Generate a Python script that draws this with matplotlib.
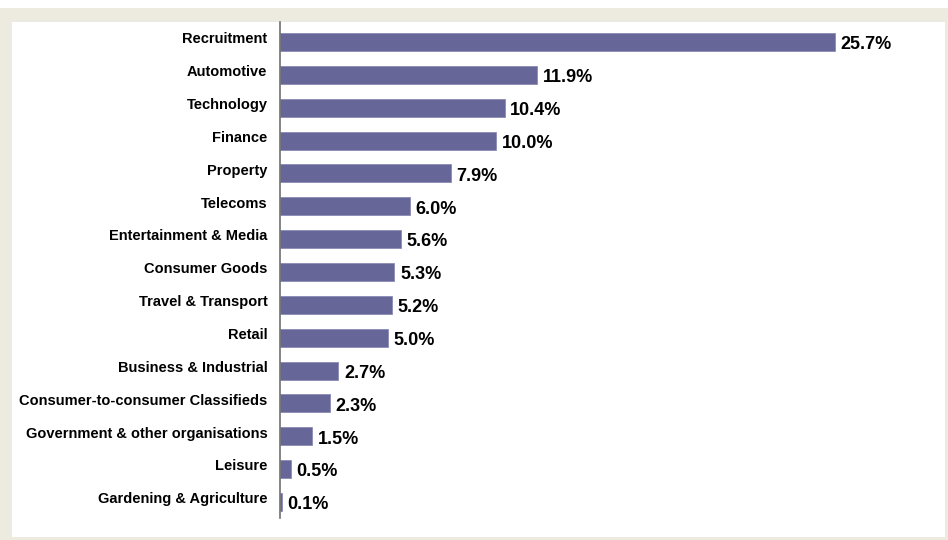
import matplotlib.pyplot as plt
import matplotlib.transforms as mtransforms
from matplotlib.patches import Rectangle

# Share of items by sector (%)
sectors = [
    'Recruitment', 'Automotive', 'Technology', 'Finance', 'Property',
    'Telecoms', 'Entertainment & Media', 'Consumer Goods',
    'Travel & Transport', 'Retail', 'Business & Industrial',
    'Consumer-to-consumer Classifieds', 'Government & other organisations',
    'Leisure', 'Gardening & Agriculture',
]
shares = [25.7, 11.9, 10.4, 10.0, 7.9, 6.0, 5.6, 5.3, 5.2, 5.0,
          2.7, 2.3, 1.5, 0.5, 0.1]

W, H = 948, 540
BAR = '#666699'
BEIGE = '#EDEAE0'

plt.rcParams['font.family'] = ['Liberation Sans', 'DejaVu Sans']

fig = plt.figure(figsize=(W / 100, H / 100), dpi=100, facecolor='white')

# beige frame with white panel, as in the original page
fig.patches.append(Rectangle((0, 0), 1, 1 - 8 / H, transform=fig.transFigure,
                             facecolor=BEIGE, edgecolor='none', zorder=-2))
fig.patches.append(Rectangle((12 / W, 3 / H), (945 - 12) / W, (537 - 22) / H,
                             transform=fig.transFigure, facecolor='white',
                             edgecolor='none', zorder=-1))

ax = fig.add_axes([280 / W, 1 - 518 / H, (940 - 280) / W, (518 - 22) / H])
ax.patch.set_alpha(0)

y = list(range(len(sectors)))
ax.barh(y, shares, height=0.55, color=BAR, edgecolor='#8A8AB5', linewidth=0.6)

ax.set_xlim(0, 660 / 21.6)
ax.set_ylim(14 + 16 / 32.857, -20 / 32.857)
ax.set_yticks(y)
ax.set_yticklabels(sectors, fontsize=10.5, fontweight='bold')
ax.tick_params(axis='y', length=0, pad=9)
ax.set_xticks([])

# nudge category labels a little up, value labels a little down
up = mtransforms.ScaledTranslation(0, 3 / 72, fig.dpi_scale_trans)
for lab in ax.get_yticklabels():
    lab.set_transform(lab.get_transform() + up)

for yi, v in zip(y, shares):
    ax.annotate(f'{v:.1f}%', (v, yi), xytext=(4, -2), textcoords='offset points',
                ha='left', va='center', fontsize=13, fontweight='bold')

for s in ('top', 'right', 'bottom'):
    ax.spines[s].set_visible(False)
ax.spines['left'].set_color('#707070')
ax.spines['left'].set_linewidth(1.2)

fig.savefig('out.png', dpi=100, facecolor=fig.get_facecolor())
